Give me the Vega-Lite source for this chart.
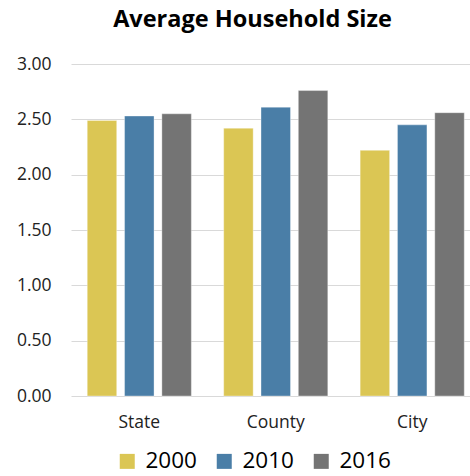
{
  "$schema": "https://vega.github.io/schema/vega-lite/v6.json",
  "width": 399,
  "height": 332,
  "autosize": {"type": "none"},
  "padding": {"left": 71, "top": 64, "right": 0, "bottom": 80},
  "background": "white",
  "title": {
    "text": "Average Household Size",
    "font": "Open Sans",
    "fontSize": 23.5,
    "fontWeight": "bold",
    "color": "#000000",
    "anchor": "middle",
    "frame": "group",
    "dx": -18,
    "offset": 24
  },
  "data": {
    "values": [
      {"area": "State", "year": "2000", "size": 2.49},
      {"area": "State", "year": "2010", "size": 2.53},
      {"area": "State", "year": "2016", "size": 2.55},
      {"area": "County", "year": "2000", "size": 2.42},
      {"area": "County", "year": "2010", "size": 2.61},
      {"area": "County", "year": "2016", "size": 2.76},
      {"area": "City", "year": "2000", "size": 2.22},
      {"area": "City", "year": "2010", "size": 2.45},
      {"area": "City", "year": "2016", "size": 2.56}
    ]
  },
  "mark": {"type": "bar", "stroke": "#ffffff", "strokeOpacity": 0.35, "strokeWidth": 1},
  "encoding": {
    "x": {
      "field": "area",
      "type": "nominal",
      "sort": ["State", "County", "City"],
      "scale": {"range": [0, 409.5], "paddingInner": 0.237, "paddingOuter": 0.119},
      "axis": {
        "title": null,
        "labelAngle": 0,
        "domain": false,
        "ticks": false,
        "labelFont": "Open Sans",
        "labelFontSize": 17.5,
        "labelColor": "#222222",
        "labelPadding": 17
      }
    },
    "xOffset": {
      "field": "year",
      "type": "nominal",
      "scale": {"paddingInner": 0.21, "paddingOuter": 0}
    },
    "y": {
      "field": "size",
      "type": "quantitative",
      "scale": {"domain": [0, 3]},
      "axis": {
        "title": null,
        "values": [0, 0.5, 1, 1.5, 2, 2.5, 3],
        "format": ".2f",
        "domain": false,
        "ticks": false,
        "grid": true,
        "gridColor": "#d9d9d9",
        "gridWidth": 1,
        "labelFont": "Open Sans",
        "labelFontSize": 17.5,
        "labelColor": "#222222",
        "labelPadding": 20
      }
    },
    "color": {
      "field": "year",
      "type": "nominal",
      "scale": {"domain": ["2000", "2010", "2016"], "range": ["#DBC654", "#4A7EA7", "#747474"]},
      "legend": {
        "title": null,
        "orient": "none",
        "legendX": 45,
        "legendY": 386,
        "direction": "horizontal",
        "symbolType": "square",
        "symbolSize": 225,
        "symbolStrokeWidth": 0,
        "symbolOpacity": 1,
        "labelFont": "Open Sans",
        "labelFontSize": 22.5,
        "labelColor": "#000000",
        "labelOffset": 7,
        "columnPadding": 16
      }
    }
  },
  "config": {
    "view": {"stroke": null},
    "font": "Open Sans"
  }
}
